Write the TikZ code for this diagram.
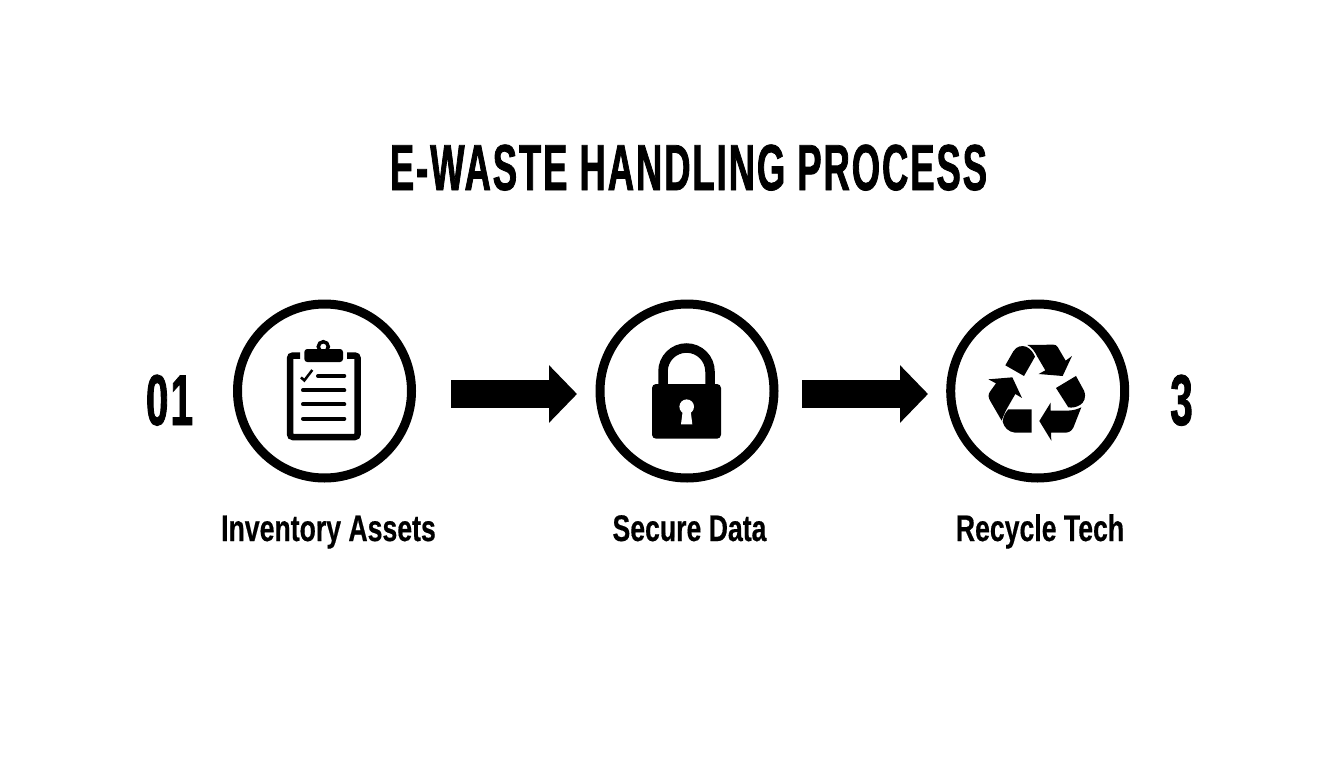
\documentclass[tikz,border=0pt]{standalone}
\usepackage{fontspec}
\usepackage{tikz}
\usetikzlibrary{arrows.meta,positioning}
\newfontfamily\headfont[FakeStretch=0.56,FakeBold=1.2,LetterSpace=3]{Liberation Sans Bold}
\newfontfamily\labelfont[FakeStretch=0.72,FakeBold=0.4]{Liberation Sans Bold}
\tikzset{
  ring/.style={circle,draw=black,line width=9pt,inner sep=0pt,minimum size=174pt},
  flowarrow/.style={line width=27.7pt,draw=black,-{Triangle[length=28pt,width=56pt]}},
  steptext/.style={anchor=base,font=\labelfont\fontsize{37}{37}\selectfont},
  stepnum/.style={anchor=base,font=\headfont\fontsize{72}{72}\selectfont},
  listbar/.style={line width=4pt,line cap=round}
}
\begin{document}
\begin{tikzpicture}[x=1pt,y=-1pt]
  \useasboundingbox (0,0) rectangle (1344,768);
  \node[anchor=base,font=\headfont\fontsize{65}{65}\selectfont] (title) at (688.5,190) {E-WASTE HANDLING PROCESS};
  \node[ring] (inventory) at (324.5,391) {};
  \node[ring] (secure) at (687,391) {};
  \node[ring] (recycle) at (1037.7,391) {};
  \node[stepnum] (numone) at (169.5,425) {01};
  \node[stepnum] (numthree) at (1181.5,425) {3};
  \node[steptext] (inventorytext) at (328.5,541) {Inventory Assets};
  \node[steptext] (securetext) at (689.5,541) {Secure Data};
  \node[steptext] (recycletext) at (1040,541) {Recycle Tech};
  \draw[flowarrow,shorten <=126.5pt,shorten >=110pt] ([yshift=-3pt]inventory.center) -- ([yshift=-3pt]secure.center);
  \draw[flowarrow,shorten <=115pt,shorten >=109.7pt] ([yshift=-3pt]secure.center) -- ([yshift=-3pt]recycle.center);
  % clipboard
  \draw[line width=6.5pt,rounded corners=3pt] (300,355.5) -- (290,355.5) -- (290,437) -- (357.7,437) -- (357.7,355.5) -- (347,355.5);
  \fill[rounded corners=3pt] (304.3,349) rectangle (343,362);
  \draw[line width=3.5pt] (323.3,346.7) circle (5);
  \foreach \y in {390.3,404.3,418.7} { \draw[listbar] (303,\y) -- (344.3,\y); }
  \draw[listbar] (318,376) -- (344.3,376);
  \draw[line width=2.5pt] (301,377.3) -- (304.3,380.5) -- (312.3,370);
  % padlock
  \draw[line width=9.5pt] (663,384) -- (663,371.5) arc[start angle=180,end angle=360,radius=23.5] -- (710,384);
  \fill[rounded corners=4pt] (652,384) rectangle (721,438.7);
  \fill[white] (686.7,406.7) circle (7.3);
  \fill[white] (682.7,411) -- (690.7,411) -- (692.3,424.3) -- (681,424.3) -- cycle;
  % recycling arrows
  \begin{scope}[shift={(940,290)},scale=0.3333]
    \fill (262,165) -- (340,164) .. controls (346,164) and (350,166) .. (353,171) -- (377,212) -- (396,198) -- (368,258) -- (296,252) -- (316,241) -- (292,200) .. controls (284,184) and (276,172) .. (262,165) -- cycle;
    \fill (196,226) -- (220,184) .. controls (230,168) and (245,166) .. (258,170) .. controls (272,176) and (280,188) .. (285,200) -- (252,258) -- cycle;
    \fill (348,294) -- (408,258) -- (432,302) .. controls (440,322) and (432,338) .. (420,345) .. controls (408,352) and (396,354) .. (385,352) -- cycle;
    \fill (424,352) -- (400,413) .. controls (394,424) and (386,428) .. (375,428) -- (333,428) -- (334,452) -- (298,393) -- (332,338) -- (332,362) -- (380,362) .. controls (398,362) and (412,358) .. (424,352) -- cycle;
    \fill (275,358) -- (275,428) -- (225,428) .. controls (205,426) and (192,412) .. (188,395) .. controls (190,378) and (196,368) .. (205,358) -- cycle;
    \fill (145,268) -- (217,262) -- (246,324) -- (226,312) -- (203,352) .. controls (196,364) and (190,378) .. (185,392) -- (152,335) .. controls (144,322) and (144,314) .. (150,305) -- (168,280) -- cycle;
  \end{scope}
\end{tikzpicture}
\end{document}
